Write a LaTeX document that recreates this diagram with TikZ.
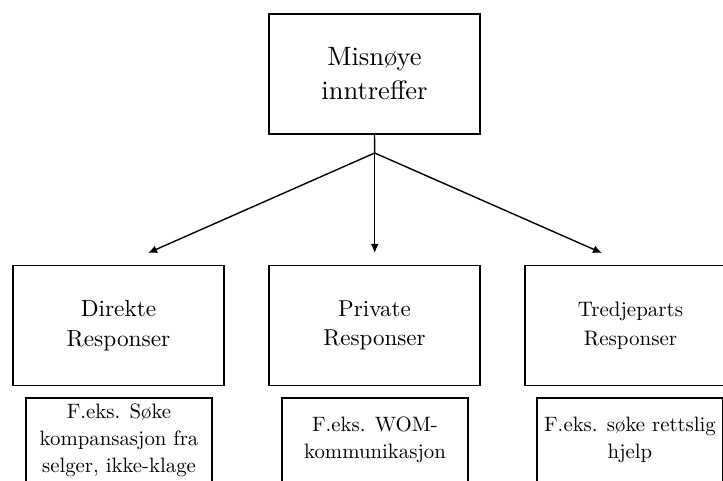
\documentclass[tikz,border=0pt]{standalone}
\usepackage{fontspec}
\setmainfont{lmroman10-regular}[Extension=.otf]
\usepackage{tikz}
\usetikzlibrary{arrows.meta}

\begin{document}
\begin{tikzpicture}[x=1pt,y=1pt,
    box/.style={draw,line width=1.6pt,minimum width=211pt,minimum height=120pt,
      align=center,inner sep=0pt},
    note/.style={draw,line width=1.6pt,minimum width=186pt,minimum height=84pt,
      align=center,inner sep=0pt,font=\fontsize{20.8}{27}\selectfont},
    arrow/.style={line width=1.4pt,-{Latex[length=9pt,width=8pt]}}]
    \useasboundingbox (0,0) rectangle (723,480);
    \clip (0,0) rectangle (723,480);
    % Drawing top box
    \node[box,font=\fontsize{26.5}{34}\selectfont] (misnoye) at (374.5,406) {Misnøye\\inntreffer};
    % Drawing response boxes
    \node[box,font=\fontsize{23.3}{30}\selectfont] (direkte) at (118.5,154.5) {Direkte\\Responser};
    \node[box,font=\fontsize{23}{29}\selectfont] (private) at (374.5,154.5) {Private\\Responser};
    \node[box,font=\fontsize{21}{29}\selectfont] (tredje) at (630.5,154.5) {Tredjeparts\\Responser};
    % Drawing example boxes
    \node[note] (ekdirekte) at (119,40) {F.eks. Søke\\kompansasjon fra\\selger, ikke-klage};
    \node[note] (ekprivate) at (375,40) {F.eks. WOM-\\kommunikasjon};
    \node[note] (ektredje) at (630,40) {F.eks. søke rettslig\\hjelp};
    % Drawing arrows
    \coordinate (split) at (374.7,327);
    \coordinate (tipdirekte) at (148,227);
    \coordinate (tipprivate) at (374.7,227);
    \coordinate (tiptredje) at (602,227);
    \draw[line width=1.4pt] (misnoye.south) -- (split);
    \foreach \tip in {tipdirekte,tipprivate,tiptredje}{
      \draw[arrow] (split) -- (\tip);
    }
\end{tikzpicture}
\end{document}
